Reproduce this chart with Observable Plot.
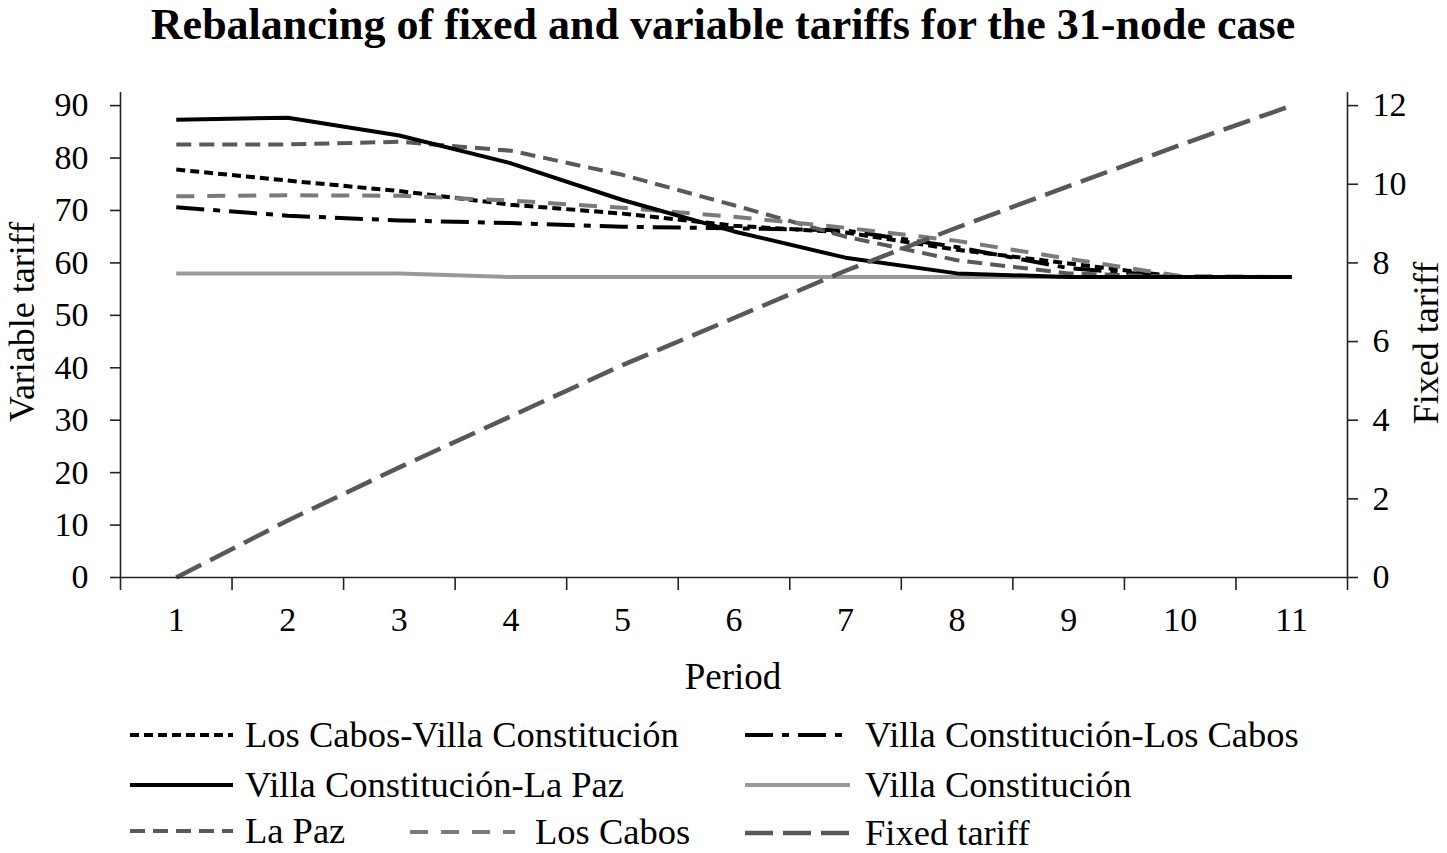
<!DOCTYPE html>
<html>
<head>
<meta charset="utf-8">
<script src="https://cdn.jsdelivr.net/npm/d3@7"></script>
<script src="https://cdn.jsdelivr.net/npm/@observablehq/plot@0.6"></script>
<style>
  html, body { margin: 0; padding: 0; background: #fff; }
  body { font-family: "Liberation Serif", "Times New Roman", serif; color: #000; }
  #wrap { position: relative; width: 1447px; height: 853px; overflow: hidden; background: #fff; }
  #title { position: absolute; left: 723px; top: 2px; transform: translateX(-50%); width: max-content; font-weight: bold; font-size: 44px; line-height: 46px; white-space: nowrap; }
  #chart { position: absolute; left: 0; top: 60px; }
  .axlab { position: absolute; width: max-content; font-size: 36px; line-height: 30px; white-space: nowrap; }
  #legend { position: absolute; left: 0; top: 700px; }
</style>
</head>
<body>
<div id="wrap">
  <div id="title">Rebalancing of fixed and variable tariffs for the 31-node case</div>
  <div id="chart"></div>
  <div class="axlab" id="ylabL" style="left:22px; top:322px; transform: translate(-50%,-50%) rotate(-90deg);"></div>
  <div class="axlab" id="ylabR" style="left:1426px; top:343px; transform: translate(-50%,-50%) rotate(-90deg);"></div>
  <div class="axlab" id="xlab" style="left:733px; top:677px; transform: translate(-50%,-50%); font-size:37px;"></div>
  <div id="legend"></div>
</div>
<script>
// ---------- data ----------
const periods = [1, 2, 3, 4, 5, 6, 7, 8, 9, 10, 11];
const variableTicks = [0, 10, 20, 30, 40, 50, 60, 70, 80, 90];
const fixedTicks = [0, 2, 4, 6, 8, 10, 12];

const losCabosVillaConstitucion = [77.8, 75.7, 73.7, 71.1, 69.4, 67.1, 65.8, 62.5, 59.9, 57.3, 57.3];
const villaConstitucionLosCabos = [70.6, 69.0, 68.1, 67.6, 66.9, 66.6, 66.2, 63.0, 59.0, 57.3, 57.3];
const villaConstitucionLaPaz   = [87.3, 87.7, 84.3, 79.0, 72.0, 66.0, 61.0, 58.0, 57.3, 57.3, 57.3];
const villaConstitucion        = [58.0, 58.0, 58.0, 57.3, 57.3, 57.3, 57.3, 57.3, 57.3, 57.3, 57.3];
const laPaz                    = [82.6, 82.6, 83.1, 81.4, 76.8, 71.0, 65.0, 60.5, 58.0, 57.3, 57.3];
const losCabos                 = [72.7, 72.9, 72.8, 71.9, 70.5, 68.8, 66.7, 64.2, 60.8, 57.5, 57.3];
const fixedTariff              = [0, 1.45, 2.8, 4.1, 5.4, 6.6, 7.8, 8.9, 9.95, 11.0, 12.0];

const seriesNames = [
  "Los Cabos-Villa Constitución",
  "Villa Constitución-Los Cabos",
  "Villa Constitución-La Paz",
  "Villa Constitución",
  "La Paz",
  "Los Cabos",
  "Fixed tariff"
];
const axisTitles = { left: "Variable tariff", right: "Fixed tariff", x: "Period" };
document.getElementById("ylabL").textContent = axisTitles.left;
document.getElementById("ylabR").textContent = axisTitles.right;
document.getElementById("xlab").textContent = axisTitles.x;

// ---------- styles ----------
const styles = {
  "Los Cabos-Villa Constitución": { stroke: "#000", dash: "9,5", width: 4 },
  "Villa Constitución-Los Cabos": { stroke: "#000", dash: "28,9,7,9", width: 4 },
  "Villa Constitución-La Paz":    { stroke: "#000", dash: null, width: 4 },
  "Villa Constitución":           { stroke: "#999", dash: null, width: 4 },
  "La Paz":                       { stroke: "#595959", dash: "15,8", width: 4 },
  "Los Cabos":                    { stroke: "#7a7a7a", dash: "18,13", width: 4 },
  "Fixed tariff":                 { stroke: "#58585c", dash: "28,10", width: 4.5 }
};

const ratio = 90 / 12; // right axis (fixed tariff) mapped onto the left scale
const values = {
  "Los Cabos-Villa Constitución": losCabosVillaConstitucion,
  "Villa Constitución-Los Cabos": villaConstitucionLosCabos,
  "Villa Constitución-La Paz": villaConstitucionLaPaz,
  "Villa Constitución": villaConstitucion,
  "La Paz": laPaz,
  "Los Cabos": losCabos,
  "Fixed tariff": fixedTariff.map(v => v * ratio)
};
const rows = name => periods.map((p, i) => ({ p, v: values[name][i] }));

const boundaries = [periods[0] - 0.5, ...periods.map(p => p + 0.5)];
const drawOrder = ["Villa Constitución", "Los Cabos-Villa Constitución", "Villa Constitución-Los Cabos",
                   "La Paz", "Los Cabos", "Villa Constitución-La Paz", "Fixed tariff"];

const lineMarks = drawOrder.map(name => Plot.line(rows(name), {
  x: "p", y: "v",
  stroke: styles[name].stroke,
  strokeWidth: styles[name].width,
  strokeDasharray: styles[name].dash || undefined,
  strokeLinejoin: "round",
  strokeLinecap: "butt"
}));

const chart = Plot.plot({
  width: 1447,
  height: 640,
  marginLeft: 120,
  marginRight: 100,
  marginTop: 32,
  marginBottom: 123,
  style: { fontFamily: "'Liberation Serif', 'Times New Roman', serif", fontSize: "34px", color: "#000", background: "#fff", overflow: "visible" },
  x: { type: "linear", domain: [boundaries[0], boundaries[boundaries.length - 1]] },
  y: { domain: [0, 92.5] },
  marks: [
    ...lineMarks,
    Plot.ruleY([0], { stroke: "#222", strokeWidth: 1.6 }),
    Plot.ruleX([boundaries[0], boundaries[boundaries.length - 1]], { y1: 0, y2: 92.5, stroke: "#222", strokeWidth: 1.6 }),
    Plot.axisX({ ticks: boundaries, tickSize: 13, tickFormat: () => "", stroke: "#222", strokeWidth: 1.6, label: null }),
    Plot.axisX({ ticks: periods, tickSize: 0, tickPadding: 29, tickFormat: d => String(d), fontSize: 34, label: null }),
    Plot.axisY({ anchor: "left", ticks: variableTicks, tickSize: 10, tickPadding: 22, fontSize: 34, stroke: "#222", strokeWidth: 1.6, label: null }),
    Plot.axisY({ anchor: "right", ticks: fixedTicks.map(t => t * ratio), tickFormat: d => String(Math.round(d / ratio)), tickSize: 10, tickPadding: 15, fontSize: 34, stroke: "#222", strokeWidth: 1.6, label: null })
  ]
});
document.getElementById("chart").appendChild(chart);

// ---------- legend ----------
const legendLayout = [
  { name: "Los Cabos-Villa Constitución", x1: 130, x2: 233, tx: 245, y: 35 },
  { name: "Villa Constitución-Los Cabos", x1: 745, x2: 850, tx: 865, y: 35 },
  { name: "Villa Constitución-La Paz",    x1: 130, x2: 233, tx: 245, y: 85 },
  { name: "Villa Constitución",           x1: 745, x2: 850, tx: 865, y: 85 },
  { name: "La Paz",                       x1: 130, x2: 233, tx: 245, y: 131 },
  { name: "Los Cabos",                    x1: 410, x2: 515, tx: 535, y: 132 },
  { name: "Fixed tariff",                 x1: 745, x2: 850, tx: 865, y: 133 }
];
const lsvg = d3.select("#legend").append("svg").attr("width", 1447).attr("height", 153).style("overflow", "visible");
legendLayout.forEach(d => {
  const s = styles[d.name];
  lsvg.append("line").attr("x1", d.x1).attr("x2", d.x2).attr("y1", d.y).attr("y2", d.y)
    .attr("stroke", s.stroke).attr("stroke-width", s.width)
    .attr("stroke-dasharray", s.dash || null);
  lsvg.append("text").attr("x", d.tx).attr("y", d.y).attr("dy", "0.32em")
    .attr("font-family", "'Liberation Serif', 'Times New Roman', serif").attr("font-size", 36.5)
    .text(d.name);
});
</script>
</body>
</html>
